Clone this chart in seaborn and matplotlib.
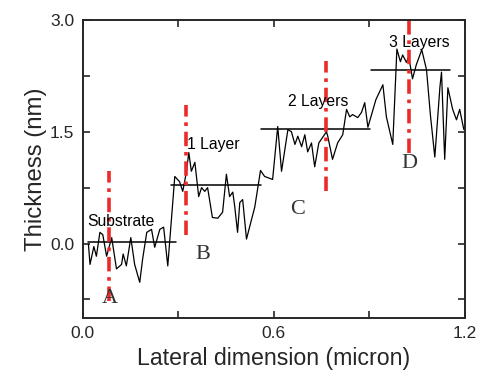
import numpy as np
import pandas as pd
import matplotlib
matplotlib.use("Agg")
import matplotlib.pyplot as plt
import seaborn as sns

# Height profile (micron, nm)
lateral = [0.018, 0.023, 0.035, 0.043, 0.054, 0.063, 0.075, 0.091, 0.106, 0.122,
           0.127, 0.137, 0.151, 0.163, 0.179, 0.188, 0.201, 0.216, 0.226, 0.242,
           0.254, 0.267, 0.289, 0.304, 0.314, 0.325, 0.333, 0.341, 0.352, 0.364,
           0.373, 0.383, 0.392, 0.407, 0.424, 0.439, 0.451, 0.461, 0.471, 0.477,
           0.486, 0.493, 0.502, 0.514, 0.540, 0.558, 0.571, 0.596, 0.612, 0.624,
           0.644, 0.655, 0.666, 0.675, 0.687, 0.697, 0.706, 0.718, 0.728, 0.741,
           0.765, 0.769, 0.784, 0.800, 0.816, 0.828, 0.838, 0.847, 0.863, 0.875,
           0.885, 0.895, 0.920, 0.942, 0.953, 0.973, 0.986, 0.997, 1.004, 1.016,
           1.023, 1.035, 1.047, 1.064, 1.079, 1.091, 1.105, 1.121, 1.126, 1.136,
           1.146, 1.161, 1.173, 1.183, 1.196]
thickness = [-0.01, -0.28, -0.04, -0.17, 0.15, 0.12, -0.17, 0.08, -0.34, -0.28,
             -0.14, -0.30, 0.08, -0.28, -0.52, -0.21, 0.15, 0.19, -0.05, 0.19,
             0.22, -0.30, 0.90, 0.83, 0.70, 0.95, 1.22, 0.97, 1.09, 0.63,
             0.75, 0.70, 0.75, 0.35, 0.34, 0.42, 0.93, 0.63, 0.69, 0.50,
             0.15, 0.55, 0.59, 0.06, 0.49, 0.98, 0.90, 0.86, 1.57, 0.97,
             1.53, 1.50, 1.33, 1.44, 1.30, 1.46, 1.23, 1.35, 1.03, 1.35,
             1.50, 1.44, 1.13, 1.35, 1.46, 1.80, 1.70, 1.73, 1.69, 1.76,
             1.89, 1.56, 1.93, 2.13, 1.70, 1.33, 2.61, 2.44, 2.53, 2.43,
             2.51, 2.21, 2.40, 2.60, 2.33, 1.73, 1.16, 2.10, 2.30, 1.13,
             2.09, 1.80, 1.66, 1.80, 1.53]

# Level lines
level_names = ["Substrate", "1 Layer", "2 Layers", "3 Layers"]
level_y = [0.02, 0.78, 1.54, 2.33]
level_x0 = [0.017, 0.278, 0.561, 0.906]
level_x1 = [0.292, 0.561, 0.901, 1.152]
level_label_x = [0.12, 0.41, 0.74, 1.055]
level_label_y = [0.30, 1.33, 1.90, 2.70]

# Marker lines A-D
mark_names = ["A", "B", "C", "D"]
mark_x = [0.083, 0.325, 0.765, 1.024]
mark_top = [0.97, 1.86, 2.45, 3.00]
mark_bot = [-0.77, 0.12, 0.70, 1.22]
mark_label_x = [0.085, 0.377, 0.675, 1.026]
mark_label_y = [-0.74, -0.15, 0.46, 1.07]

sns.set_style("ticks")
plt.rcParams["font.family"] = ["Liberation Sans", "DejaVu Sans"]

fig = plt.figure(figsize=(4.78, 3.76), dpi=100)
ax = fig.add_axes([0.173, 0.154, 0.8, 0.793])

df = pd.DataFrame({"x": lateral, "y": thickness})
sns.lineplot(data=df, x="x", y="y", ax=ax, color="black", lw=0.9,
             sort=False, estimator=None)

for x0, x1, y in zip(level_x0, level_x1, level_y):
    ax.plot([x0, x1], [y, y], color="black", lw=1.1)

for x, t, b in zip(mark_x, mark_top, mark_bot):
    ax.plot([x, x], [b, t], color="#ec2a2a", lw=2.6,
            linestyle=(0, (4, 1.6, 1, 1.6)))

for name, x, y in zip(level_names, level_label_x, level_label_y):
    ax.text(x, y, name, ha="center", va="center", fontsize=11.3, color="black")

for name, x, y in zip(mark_names, mark_label_x, mark_label_y):
    ax.text(x, y, name, ha="center", va="center", fontsize=16,
            family=["Liberation Serif"], color="#333333")

ax.set_xlim(0, 1.2)
ax.set_ylim(-1.0, 3.0)
xt = [0.0, 0.3, 0.6, 0.9, 1.2]
ax.set_xticks(xt)
ax.set_xticklabels(["0.0", "", "0.6", "", "1.2"])
yt = [-0.75, 0.0, 0.75, 1.5, 2.25, 3.0]
ax.set_yticks(yt)
ax.set_yticklabels(["", "0.0", "", "1.5", "", "3.0"])
ax.tick_params(direction="in", top=True, right=True, length=5, width=1.2,
               labelsize=12.5, pad=6)
for s in ax.spines.values():
    s.set_linewidth(1.4)
    s.set_visible(True)
ax.set_xlabel("Lateral dimension (micron)", fontsize=16.7, labelpad=4)
ax.set_ylabel("Thickness (nm)", fontsize=17.3, labelpad=2)

fig.savefig("out.png", dpi=100)
